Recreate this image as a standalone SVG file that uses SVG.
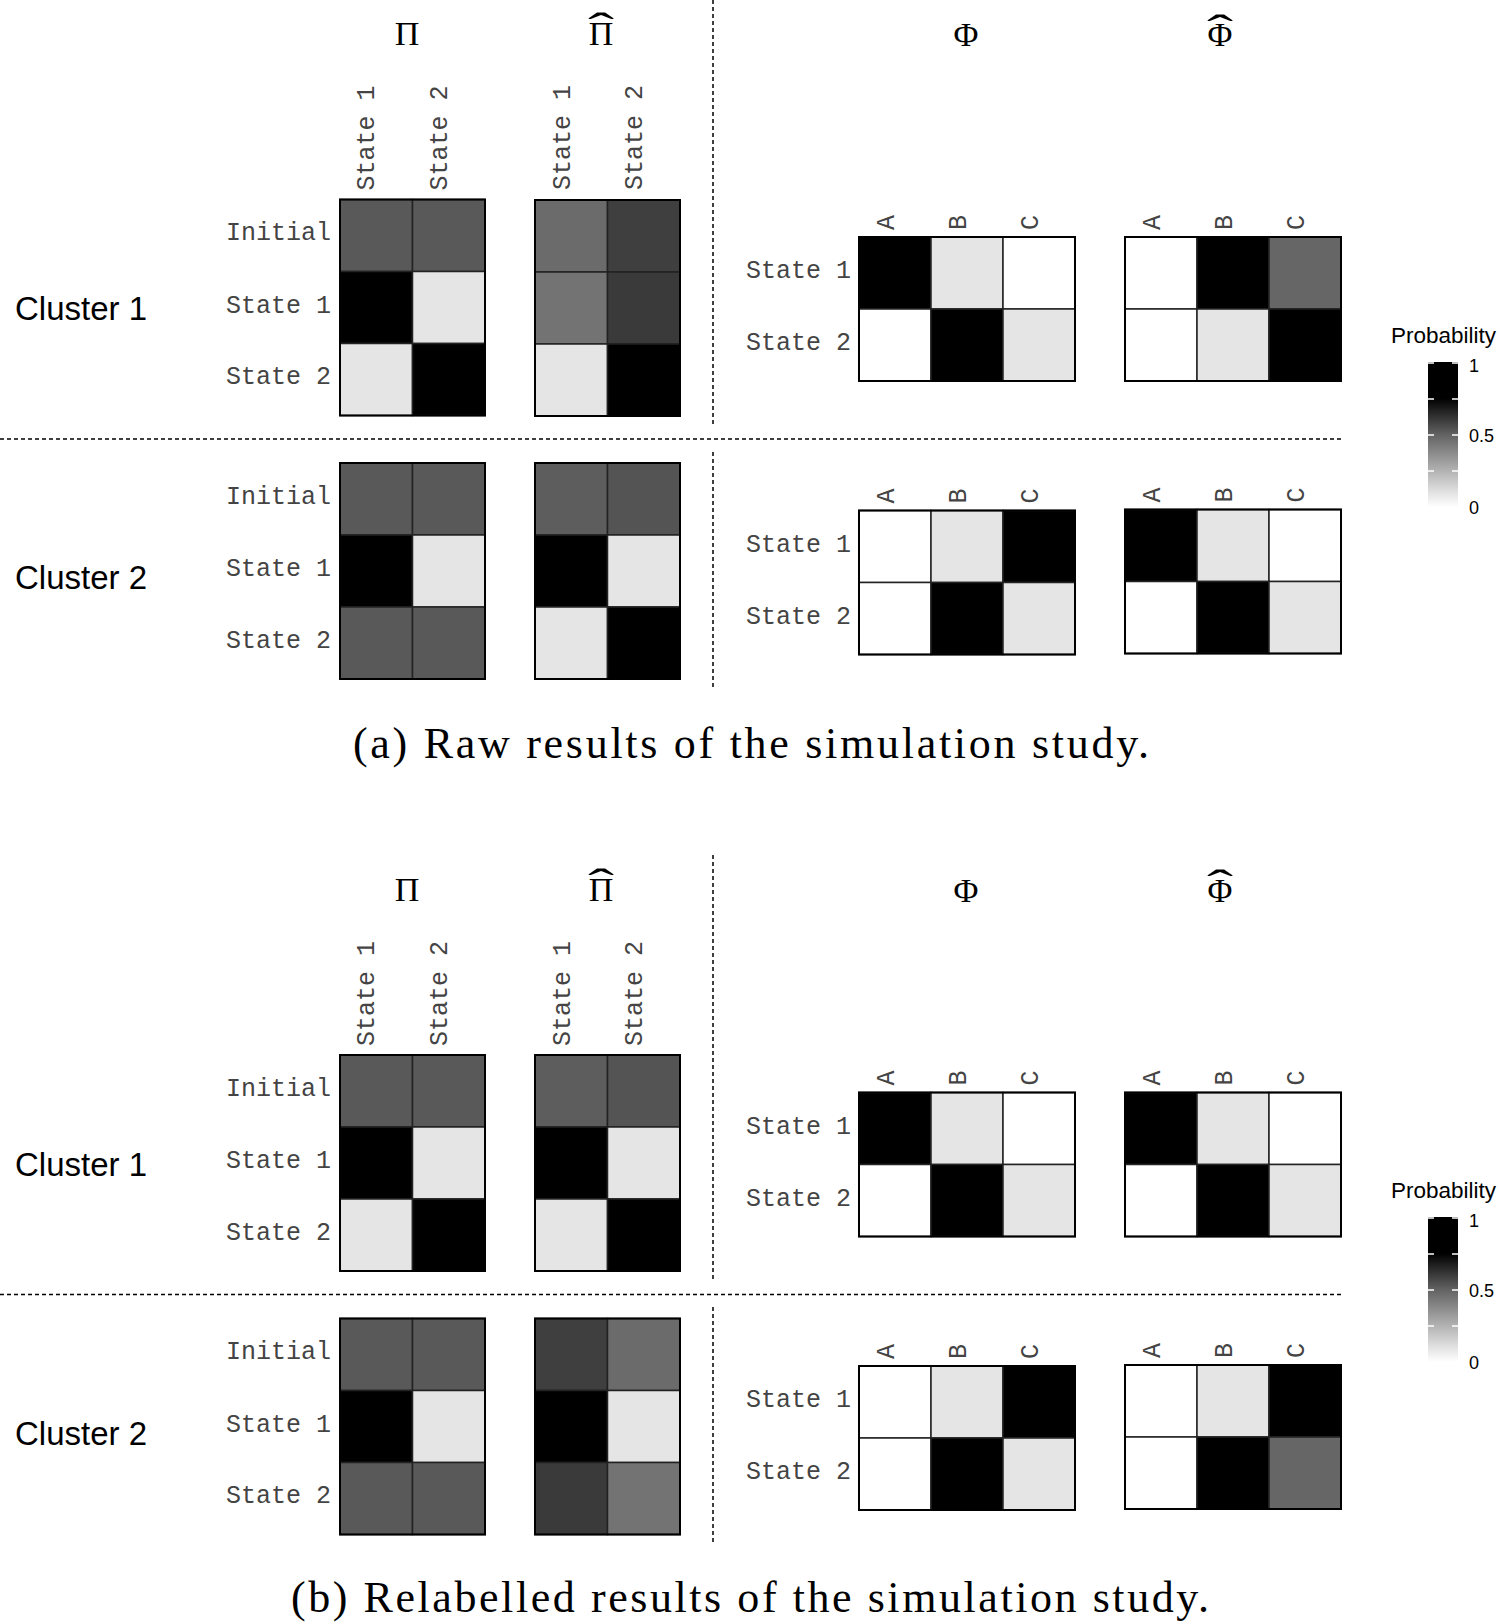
<svg xmlns="http://www.w3.org/2000/svg" width="1500" height="1624" viewBox="0 0 1500 1624">
<style>
.lab{font-family:"Liberation Mono",monospace;font-size:25px;fill:#444}
.ttl{font-family:"Liberation Serif","DejaVu Serif",serif;font-size:34px;fill:#000;text-anchor:middle}
.hat{font-family:"Liberation Serif","DejaVu Serif",serif;font-size:34px;fill:#000;text-anchor:middle}
.clu{font-family:"Liberation Sans",Arial,sans-serif;font-size:33px;fill:#000}
.cap{font-family:"Liberation Serif","DejaVu Serif",serif;font-size:44px;fill:#000}
.leg{font-family:"Liberation Sans",Arial,sans-serif;fill:#000}
.c rect{stroke:#222;stroke-width:1.5}
.frame{fill:none;stroke:#000;stroke-width:2}
.dash{stroke:#000;stroke-width:1.5;stroke-dasharray:4 3;fill:none}
.tick{stroke:#fff;stroke-width:1.5}
.end{text-anchor:end}
</style>
<defs>
<linearGradient id="prob" x1="0" y1="0" x2="0" y2="1">
<stop offset="0" stop-color="#000"/>
<stop offset="0.25" stop-color="#000"/>
<stop offset="0.5" stop-color="#626262"/>
<stop offset="0.75" stop-color="#b2b2b2"/>
<stop offset="0.9" stop-color="#e2e2e2"/>
<stop offset="1" stop-color="#fff"/>
</linearGradient>
</defs>
<rect width="1500" height="1624" fill="#fff"/>

<g id="separators">
<line class="dash" x1="713" y1="0" x2="713" y2="424"/>
<line class="dash" x1="713" y1="452" x2="713" y2="688"/>
<line class="dash" x1="0" y1="439" x2="1342" y2="439"/>
<line class="dash" x1="713" y1="855" x2="713" y2="1280"/>
<line class="dash" x1="713" y1="1307" x2="713" y2="1543"/>
<line class="dash" x1="0" y1="1294.5" x2="1342" y2="1294.5"/>
</g>

<g id="titles-a">
<text class="ttl" x="407" y="45">Π</text>
<text class="ttl" x="601" y="45">Π</text>
<text class="hat" transform="translate(601,43) scale(2.3,1.3)">ˆ</text>
<text class="ttl" x="966" y="46">Φ</text>
<text class="ttl" x="1220" y="46">Φ</text>
<text class="hat" transform="translate(1220,44.5) scale(2.3,1.3)">ˆ</text>
</g>
<g id="titles-b">
<text class="ttl" x="407" y="900.5">Π</text>
<text class="ttl" x="601" y="900.5">Π</text>
<text class="hat" transform="translate(601,898.5) scale(2.3,1.3)">ˆ</text>
<text class="ttl" x="966" y="901.5">Φ</text>
<text class="ttl" x="1220" y="901.5">Φ</text>
<text class="hat" transform="translate(1220,900) scale(2.3,1.3)">ˆ</text>
</g>

<g id="clusters">
<text class="clu" x="15" y="320">Cluster 1</text>
<text class="clu" x="15" y="589">Cluster 2</text>
<text class="clu" x="15" y="1175.5">Cluster 1</text>
<text class="clu" x="15" y="1444.5">Cluster 2</text>
</g>

<!-- ===== Panel (a) ===== -->
<g id="a-pi-c1" transform="translate(340,199.5)">
<text class="lab end" x="-9" y="40.5">Initial</text>
<text class="lab end" x="-9" y="113">State 1</text>
<text class="lab end" x="-9" y="184.5">State 2</text>
<text class="lab" transform="translate(33.5,-9) rotate(-90)">State 1</text>
<text class="lab" transform="translate(106.5,-9) rotate(-90)">State 2</text>
<g class="c">
<rect x="0" y="0" width="72.5" height="72" fill="#595959"/><rect x="72.5" y="0" width="72.5" height="72" fill="#595959"/>
<rect x="0" y="72" width="72.5" height="72" fill="#000"/><rect x="72.5" y="72" width="72.5" height="72" fill="#e5e5e5"/>
<rect x="0" y="144" width="72.5" height="72" fill="#e5e5e5"/><rect x="72.5" y="144" width="72.5" height="72" fill="#000"/>
</g>
<rect class="frame" x="0" y="0" width="145" height="216"/>
</g>

<g id="a-pihat-c1" transform="translate(535,200)">
<text class="lab" transform="translate(34.5,-10) rotate(-90)">State 1</text>
<text class="lab" transform="translate(106.5,-10) rotate(-90)">State 2</text>
<g class="c">
<rect x="0" y="0" width="72.5" height="72" fill="#6b6b6b"/><rect x="72.5" y="0" width="72.5" height="72" fill="#3f3f3f"/>
<rect x="0" y="72" width="72.5" height="72" fill="#737373"/><rect x="72.5" y="72" width="72.5" height="72" fill="#3a3a3a"/>
<rect x="0" y="144" width="72.5" height="72" fill="#e5e5e5"/><rect x="72.5" y="144" width="72.5" height="72" fill="#000"/>
</g>
<rect class="frame" x="0" y="0" width="145" height="216"/>
</g>

<g id="a-pi-c2" transform="translate(340,463)">
<text class="lab end" x="-9" y="40.5">Initial</text>
<text class="lab end" x="-9" y="113">State 1</text>
<text class="lab end" x="-9" y="184.5">State 2</text>
<g class="c">
<rect x="0" y="0" width="72.5" height="72" fill="#595959"/><rect x="72.5" y="0" width="72.5" height="72" fill="#595959"/>
<rect x="0" y="72" width="72.5" height="72" fill="#000"/><rect x="72.5" y="72" width="72.5" height="72" fill="#e5e5e5"/>
<rect x="0" y="144" width="72.5" height="72" fill="#595959"/><rect x="72.5" y="144" width="72.5" height="72" fill="#595959"/>
</g>
<rect class="frame" x="0" y="0" width="145" height="216"/>
</g>

<g id="a-pihat-c2" transform="translate(535,463)">
<g class="c">
<rect x="0" y="0" width="72.5" height="72" fill="#5d5d5d"/><rect x="72.5" y="0" width="72.5" height="72" fill="#545454"/>
<rect x="0" y="72" width="72.5" height="72" fill="#000"/><rect x="72.5" y="72" width="72.5" height="72" fill="#e5e5e5"/>
<rect x="0" y="144" width="72.5" height="72" fill="#e5e5e5"/><rect x="72.5" y="144" width="72.5" height="72" fill="#000"/>
</g>
<rect class="frame" x="0" y="0" width="145" height="216"/>
</g>

<g id="a-phi-c1" transform="translate(859,237)">
<text class="lab end" x="-8" y="41">State 1</text>
<text class="lab end" x="-8" y="113">State 2</text>
<text class="lab" transform="translate(35,-7) rotate(-90)">A</text>
<text class="lab" transform="translate(107,-7) rotate(-90)">B</text>
<text class="lab" transform="translate(179,-7) rotate(-90)">C</text>
<g class="c">
<rect x="0" y="0" width="72" height="72" fill="#000"/><rect x="72" y="0" width="72" height="72" fill="#e5e5e5"/><rect x="144" y="0" width="72" height="72" fill="#fff"/>
<rect x="0" y="72" width="72" height="72" fill="#fff"/><rect x="72" y="72" width="72" height="72" fill="#000"/><rect x="144" y="72" width="72" height="72" fill="#e5e5e5"/>
</g>
<rect class="frame" x="0" y="0" width="216" height="144"/>
</g>

<g id="a-phihat-c1" transform="translate(1125,237)">
<text class="lab" transform="translate(35,-7) rotate(-90)">A</text>
<text class="lab" transform="translate(107,-7) rotate(-90)">B</text>
<text class="lab" transform="translate(179,-7) rotate(-90)">C</text>
<g class="c">
<rect x="0" y="0" width="72" height="72" fill="#fff"/><rect x="72" y="0" width="72" height="72" fill="#000"/><rect x="144" y="0" width="72" height="72" fill="#666"/>
<rect x="0" y="72" width="72" height="72" fill="#fff"/><rect x="72" y="72" width="72" height="72" fill="#e5e5e5"/><rect x="144" y="72" width="72" height="72" fill="#000"/>
</g>
<rect class="frame" x="0" y="0" width="216" height="144"/>
</g>

<g id="a-phi-c2" transform="translate(859,510.5)">
<text class="lab end" x="-8" y="41">State 1</text>
<text class="lab end" x="-8" y="113">State 2</text>
<text class="lab" transform="translate(35,-7) rotate(-90)">A</text>
<text class="lab" transform="translate(107,-7) rotate(-90)">B</text>
<text class="lab" transform="translate(179,-7) rotate(-90)">C</text>
<g class="c">
<rect x="0" y="0" width="72" height="72" fill="#fff"/><rect x="72" y="0" width="72" height="72" fill="#e5e5e5"/><rect x="144" y="0" width="72" height="72" fill="#000"/>
<rect x="0" y="72" width="72" height="72" fill="#fff"/><rect x="72" y="72" width="72" height="72" fill="#000"/><rect x="144" y="72" width="72" height="72" fill="#e5e5e5"/>
</g>
<rect class="frame" x="0" y="0" width="216" height="144"/>
</g>

<g id="a-phihat-c2" transform="translate(1125,509.5)">
<text class="lab" transform="translate(35,-7) rotate(-90)">A</text>
<text class="lab" transform="translate(107,-7) rotate(-90)">B</text>
<text class="lab" transform="translate(179,-7) rotate(-90)">C</text>
<g class="c">
<rect x="0" y="0" width="72" height="72" fill="#000"/><rect x="72" y="0" width="72" height="72" fill="#e5e5e5"/><rect x="144" y="0" width="72" height="72" fill="#fff"/>
<rect x="0" y="72" width="72" height="72" fill="#fff"/><rect x="72" y="72" width="72" height="72" fill="#000"/><rect x="144" y="72" width="72" height="72" fill="#e5e5e5"/>
</g>
<rect class="frame" x="0" y="0" width="216" height="144"/>
</g>

<g id="legend-a">
<text class="leg" x="1391" y="343" font-size="22.5">Probability</text>
<rect x="1428" y="362" width="30" height="145" fill="url(#prob)"/>
<g class="tick">
<line x1="1428" y1="363" x2="1434" y2="363"/><line x1="1452" y1="363" x2="1458" y2="363"/>
<line x1="1428" y1="399" x2="1434" y2="399"/><line x1="1452" y1="399" x2="1458" y2="399"/>
<line x1="1428" y1="435" x2="1434" y2="435"/><line x1="1452" y1="435" x2="1458" y2="435"/>
<line x1="1428" y1="471" x2="1434" y2="471"/><line x1="1452" y1="471" x2="1458" y2="471"/>
</g>
<text class="leg" x="1469" y="372" font-size="18">1</text>
<text class="leg" x="1469" y="442" font-size="18">0.5</text>
<text class="leg" x="1469" y="514" font-size="18">0</text>
</g>

<g id="caption-a">
<text class="cap" x="353" y="758" textLength="796" lengthAdjust="spacing">(a) Raw results of the simulation study.</text>
</g>

<!-- ===== Panel (b) ===== -->
<g id="b-pi-c1" transform="translate(340,1055)">
<text class="lab end" x="-9" y="40.5">Initial</text>
<text class="lab end" x="-9" y="113">State 1</text>
<text class="lab end" x="-9" y="184.5">State 2</text>
<text class="lab" transform="translate(33.5,-9) rotate(-90)">State 1</text>
<text class="lab" transform="translate(106.5,-9) rotate(-90)">State 2</text>
<g class="c">
<rect x="0" y="0" width="72.5" height="72" fill="#595959"/><rect x="72.5" y="0" width="72.5" height="72" fill="#595959"/>
<rect x="0" y="72" width="72.5" height="72" fill="#000"/><rect x="72.5" y="72" width="72.5" height="72" fill="#e5e5e5"/>
<rect x="0" y="144" width="72.5" height="72" fill="#e5e5e5"/><rect x="72.5" y="144" width="72.5" height="72" fill="#000"/>
</g>
<rect class="frame" x="0" y="0" width="145" height="216"/>
</g>

<g id="b-pihat-c1" transform="translate(535,1055)">
<text class="lab" transform="translate(34.5,-9) rotate(-90)">State 1</text>
<text class="lab" transform="translate(106.5,-9) rotate(-90)">State 2</text>
<g class="c">
<rect x="0" y="0" width="72.5" height="72" fill="#5d5d5d"/><rect x="72.5" y="0" width="72.5" height="72" fill="#545454"/>
<rect x="0" y="72" width="72.5" height="72" fill="#000"/><rect x="72.5" y="72" width="72.5" height="72" fill="#e5e5e5"/>
<rect x="0" y="144" width="72.5" height="72" fill="#e5e5e5"/><rect x="72.5" y="144" width="72.5" height="72" fill="#000"/>
</g>
<rect class="frame" x="0" y="0" width="145" height="216"/>
</g>

<g id="b-pi-c2" transform="translate(340,1318.5)">
<text class="lab end" x="-9" y="40.5">Initial</text>
<text class="lab end" x="-9" y="113">State 1</text>
<text class="lab end" x="-9" y="184.5">State 2</text>
<g class="c">
<rect x="0" y="0" width="72.5" height="72" fill="#595959"/><rect x="72.5" y="0" width="72.5" height="72" fill="#595959"/>
<rect x="0" y="72" width="72.5" height="72" fill="#000"/><rect x="72.5" y="72" width="72.5" height="72" fill="#e5e5e5"/>
<rect x="0" y="144" width="72.5" height="72" fill="#595959"/><rect x="72.5" y="144" width="72.5" height="72" fill="#595959"/>
</g>
<rect class="frame" x="0" y="0" width="145" height="216"/>
</g>

<g id="b-pihat-c2" transform="translate(535,1318.5)">
<g class="c">
<rect x="0" y="0" width="72.5" height="72" fill="#3f3f3f"/><rect x="72.5" y="0" width="72.5" height="72" fill="#6b6b6b"/>
<rect x="0" y="72" width="72.5" height="72" fill="#000"/><rect x="72.5" y="72" width="72.5" height="72" fill="#e5e5e5"/>
<rect x="0" y="144" width="72.5" height="72" fill="#3a3a3a"/><rect x="72.5" y="144" width="72.5" height="72" fill="#737373"/>
</g>
<rect class="frame" x="0" y="0" width="145" height="216"/>
</g>

<g id="b-phi-c1" transform="translate(859,1092.5)">
<text class="lab end" x="-8" y="41">State 1</text>
<text class="lab end" x="-8" y="113">State 2</text>
<text class="lab" transform="translate(35,-7) rotate(-90)">A</text>
<text class="lab" transform="translate(107,-7) rotate(-90)">B</text>
<text class="lab" transform="translate(179,-7) rotate(-90)">C</text>
<g class="c">
<rect x="0" y="0" width="72" height="72" fill="#000"/><rect x="72" y="0" width="72" height="72" fill="#e5e5e5"/><rect x="144" y="0" width="72" height="72" fill="#fff"/>
<rect x="0" y="72" width="72" height="72" fill="#fff"/><rect x="72" y="72" width="72" height="72" fill="#000"/><rect x="144" y="72" width="72" height="72" fill="#e5e5e5"/>
</g>
<rect class="frame" x="0" y="0" width="216" height="144"/>
</g>

<g id="b-phihat-c1" transform="translate(1125,1092.5)">
<text class="lab" transform="translate(35,-7) rotate(-90)">A</text>
<text class="lab" transform="translate(107,-7) rotate(-90)">B</text>
<text class="lab" transform="translate(179,-7) rotate(-90)">C</text>
<g class="c">
<rect x="0" y="0" width="72" height="72" fill="#000"/><rect x="72" y="0" width="72" height="72" fill="#e5e5e5"/><rect x="144" y="0" width="72" height="72" fill="#fff"/>
<rect x="0" y="72" width="72" height="72" fill="#fff"/><rect x="72" y="72" width="72" height="72" fill="#000"/><rect x="144" y="72" width="72" height="72" fill="#e5e5e5"/>
</g>
<rect class="frame" x="0" y="0" width="216" height="144"/>
</g>

<g id="b-phi-c2" transform="translate(859,1366)">
<text class="lab end" x="-8" y="41">State 1</text>
<text class="lab end" x="-8" y="113">State 2</text>
<text class="lab" transform="translate(35,-7) rotate(-90)">A</text>
<text class="lab" transform="translate(107,-7) rotate(-90)">B</text>
<text class="lab" transform="translate(179,-7) rotate(-90)">C</text>
<g class="c">
<rect x="0" y="0" width="72" height="72" fill="#fff"/><rect x="72" y="0" width="72" height="72" fill="#e5e5e5"/><rect x="144" y="0" width="72" height="72" fill="#000"/>
<rect x="0" y="72" width="72" height="72" fill="#fff"/><rect x="72" y="72" width="72" height="72" fill="#000"/><rect x="144" y="72" width="72" height="72" fill="#e5e5e5"/>
</g>
<rect class="frame" x="0" y="0" width="216" height="144"/>
</g>

<g id="b-phihat-c2" transform="translate(1125,1365)">
<text class="lab" transform="translate(35,-7) rotate(-90)">A</text>
<text class="lab" transform="translate(107,-7) rotate(-90)">B</text>
<text class="lab" transform="translate(179,-7) rotate(-90)">C</text>
<g class="c">
<rect x="0" y="0" width="72" height="72" fill="#fff"/><rect x="72" y="0" width="72" height="72" fill="#e5e5e5"/><rect x="144" y="0" width="72" height="72" fill="#000"/>
<rect x="0" y="72" width="72" height="72" fill="#fff"/><rect x="72" y="72" width="72" height="72" fill="#000"/><rect x="144" y="72" width="72" height="72" fill="#666"/>
</g>
<rect class="frame" x="0" y="0" width="216" height="144"/>
</g>

<g id="legend-b">
<text class="leg" x="1391" y="1198" font-size="22.5">Probability</text>
<rect x="1428" y="1217" width="30" height="145" fill="url(#prob)"/>
<g class="tick">
<line x1="1428" y1="1218" x2="1434" y2="1218"/><line x1="1452" y1="1218" x2="1458" y2="1218"/>
<line x1="1428" y1="1254" x2="1434" y2="1254"/><line x1="1452" y1="1254" x2="1458" y2="1254"/>
<line x1="1428" y1="1290" x2="1434" y2="1290"/><line x1="1452" y1="1290" x2="1458" y2="1290"/>
<line x1="1428" y1="1326" x2="1434" y2="1326"/><line x1="1452" y1="1326" x2="1458" y2="1326"/>
</g>
<text class="leg" x="1469" y="1227" font-size="18">1</text>
<text class="leg" x="1469" y="1297" font-size="18">0.5</text>
<text class="leg" x="1469" y="1369" font-size="18">0</text>
</g>

<g id="caption-b">
<text class="cap" x="291" y="1612" textLength="918" lengthAdjust="spacing">(b) Relabelled results of the simulation study.</text>
</g>
</svg>
